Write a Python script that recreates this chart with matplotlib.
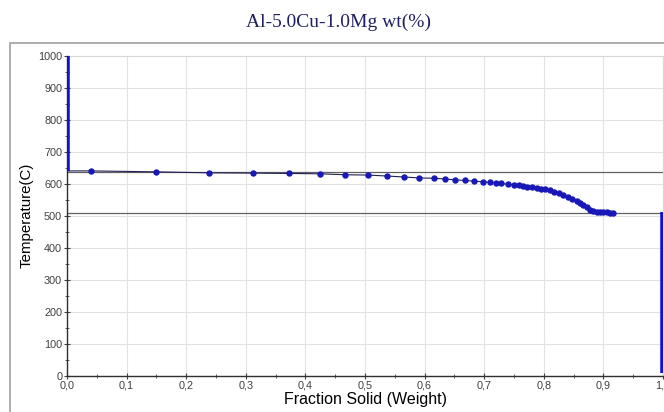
import matplotlib
matplotlib.use("Agg")
import matplotlib.pyplot as plt
import matplotlib.patches as patches
from matplotlib.ticker import MultipleLocator, FuncFormatter

plt.rcParams["font.family"] = ["Liberation Sans", "DejaVu Sans"]

title = "Al-5.0Cu-1.0Mg wt(%)"
x_label = "Fraction Solid (Weight)"
y_label = "Temperature(C)"

# liquid stage at fraction 0, eutectic finish at fraction 1
liquid_fs = [0.0, 0.0]
liquid_T = [640, 1000]
eutectic_fs = [1.0, 1.0]
eutectic_T = [510, 10]

# solidification path
fs = [0.0, 0.040, 0.150, 0.238, 0.312, 0.373, 0.424, 0.466, 0.505, 0.537,
      0.565, 0.591, 0.615, 0.634, 0.651, 0.668, 0.683, 0.698, 0.709, 0.719,
      0.729, 0.740, 0.750, 0.758, 0.765, 0.772, 0.780, 0.788, 0.795, 0.802,
      0.810, 0.817, 0.825, 0.832, 0.840, 0.848, 0.855, 0.861, 0.866, 0.872,
      0.877, 0.883, 0.889, 0.895, 0.900, 0.906, 0.911, 0.916]
temp = [640, 640, 637, 634, 633, 632, 631, 628, 627, 624,
        621, 618, 617, 615, 612, 610, 608, 606, 604, 603,
        601, 598, 597, 595, 593, 591, 589, 586, 584, 582,
        579, 575, 570, 565, 559, 553, 547, 541, 534, 526,
        519, 515, 513, 512, 511, 510, 509, 508]

liquidus = 638
solidus = 507

fig = plt.figure(figsize=(6.64, 4.12), dpi=100)

# outer panel frame
fig.patches.append(patches.Rectangle((10 / 664, -0.1), 1.0, 1 - 43 / 412 + 0.1,
                                     transform=fig.transFigure, fill=False,
                                     edgecolor="#a0a0a0", linewidth=1.2))

ax = fig.add_axes([67 / 664, 1 - 375.7 / 412, 596 / 664, 320 / 412])

blue = "#1010d8"
ax.plot(liquid_fs, liquid_T, color=blue, linewidth=4, solid_capstyle="butt", zorder=3)
ax.plot(eutectic_fs, eutectic_T, color=blue, linewidth=4, solid_capstyle="butt", zorder=3)
ax.plot(fs, temp, color="#202050", linewidth=0.8, zorder=3)
ax.plot(fs[1:], temp[1:], linestyle="none", marker="o", markersize=3.6,
        color="#1818b8", zorder=4)

ax.axhline(liquidus, color="#606060", linewidth=0.9, zorder=2)
ax.axhline(solidus, color="#606060", linewidth=0.9, zorder=2)

ax.set_xlim(0, 1.0)
ax.set_ylim(0, 1000)
ax.xaxis.set_major_locator(MultipleLocator(0.1))
ax.xaxis.set_minor_locator(MultipleLocator(0.05))
ax.yaxis.set_major_locator(MultipleLocator(100))
ax.yaxis.set_minor_locator(MultipleLocator(50))
ax.xaxis.set_major_formatter(FuncFormatter(lambda v, p: f"{v:.1f}".replace(".", ",")))
ax.yaxis.set_major_formatter(FuncFormatter(lambda v, p: f"{v:.0f}"))

ax.grid(True, which="major", color="#e2e2e2", linewidth=0.8)
ax.set_axisbelow(True)
for side in ["top", "right"]:
    ax.spines[side].set_color("#d8d8d8")
for side in ["left", "bottom"]:
    ax.spines[side].set_color("#303030")
    ax.spines[side].set_linewidth(1.0)

ax.tick_params(which="both", direction="inout", colors="#404040", labelsize=7.8,
               labelcolor="#404040", pad=1)
ax.tick_params(which="major", length=5)
ax.tick_params(which="minor", length=3)

ax.set_xlabel(x_label, fontsize=11.5, labelpad=1)
ax.set_ylabel(y_label, fontsize=10.8, labelpad=3)

fig.text(339 / 664, 1 - 22 / 412, title, ha="center", va="center",
         fontsize=14, family="Liberation Serif", color="#202060")

fig.savefig("out.png", dpi=100)
